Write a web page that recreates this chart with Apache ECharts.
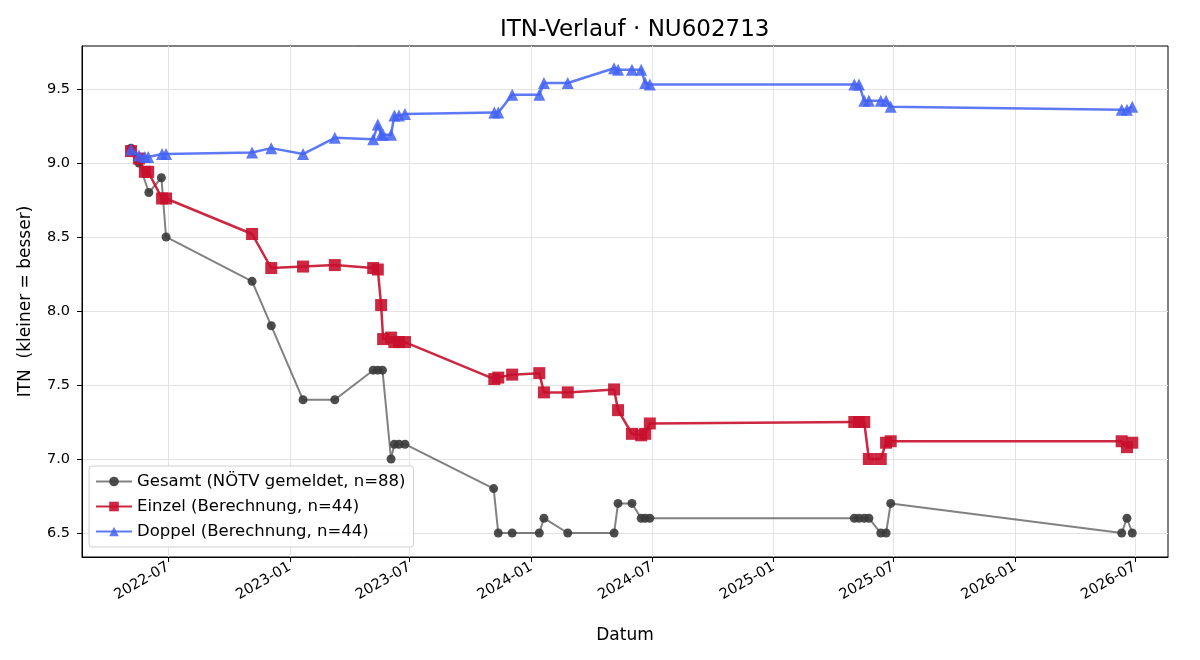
<!DOCTYPE html>
<html>
<head>
<meta charset="utf-8">
<title>ITN-Verlauf</title>
<script src="https://cdn.jsdelivr.net/npm/echarts@6/dist/echarts.min.js"></script>
<style>
html,body{margin:0;padding:0;background:#fff;}
#chart{width:1200px;height:660px;}
</style>
</head>
<body>
<div id="chart"></div>
<script>
// Gesamt (NÖTV gemeldet)
var gesamtDates = ['2022-05-06','2022-05-18','2022-06-02','2022-06-21','2022-06-28','2022-11-05','2022-12-04',
    '2023-01-21','2023-03-10','2023-05-07','2023-05-14','2023-05-21','2023-06-03','2023-06-08','2023-06-15','2023-06-24',
    '2023-11-05','2023-11-12','2023-12-03','2024-01-13','2024-01-20','2024-02-25','2024-05-05','2024-05-11','2024-06-01',
    '2024-06-15','2024-06-21','2024-06-28','2025-05-03','2025-05-10','2025-05-18','2025-05-25','2025-06-12','2025-06-20',
    '2025-06-27','2026-06-11','2026-06-19','2026-06-27'];
var gesamtValues = [9.1,9.0,8.8,8.9,8.5,8.2,7.9,
    7.4,7.4,7.6,7.6,7.6,7.0,7.1,7.1,7.1,
    6.8,6.5,6.5,6.5,6.6,6.5,6.5,6.7,6.7,
    6.6,6.6,6.6,6.6,6.6,6.6,6.6,6.5,6.5,
    6.7,6.5,6.6,6.5];

// Einzel / Doppel (Berechnung) – gleiche Zeitpunkte
var calcDates = ['2022-05-06','2022-05-18','2022-05-27','2022-06-01','2022-06-22','2022-06-28','2022-11-05','2022-12-04',
    '2023-01-21','2023-03-10','2023-05-07','2023-05-14','2023-05-19','2023-05-22','2023-06-03','2023-06-08','2023-06-15','2023-06-24',
    '2023-11-06','2023-11-12','2023-12-03','2024-01-13','2024-01-20','2024-02-25','2024-05-05','2024-05-11','2024-06-01',
    '2024-06-15','2024-06-21','2024-06-28','2025-05-03','2025-05-10','2025-05-18','2025-05-25','2025-06-12','2025-06-20',
    '2025-06-27','2026-06-11','2026-06-19','2026-06-27'];
var einzelValues = [9.08,9.03,8.94,8.94,8.76,8.76,8.52,8.29,
    8.30,8.31,8.29,8.28,8.04,7.81,7.82,7.79,7.79,7.79,
    7.54,7.55,7.57,7.58,7.45,7.45,7.47,7.33,7.17,
    7.16,7.17,7.24,7.25,7.25,7.25,7.00,7.00,7.11,
    7.12,7.12,7.08,7.11];
var doppelValues = [9.09,9.05,9.04,9.04,9.06,9.06,9.07,9.10,
    9.06,9.17,9.16,9.26,9.19,9.19,9.19,9.32,9.32,9.33,
    9.34,9.34,9.46,9.46,9.54,9.54,9.64,9.63,9.63,
    9.63,9.54,9.53,9.53,9.53,9.42,9.42,9.42,9.42,
    9.38,9.36,9.36,9.38];

var xTicks = ['2022-07-01','2023-01-01','2023-07-01','2024-01-01','2024-07-01','2025-01-01','2025-07-01','2026-01-01','2026-07-01'];
var yTicks = [6.5,7.0,7.5,8.0,8.5,9.0,9.5];

function ts(s){
    var p = s.split('-');
    return new Date(+p[0], +p[1]-1, +p[2]).getTime();
}
function pairs(dates, vals){
    var out = [];
    for(var i=0;i<dates.length;i++){ out.push([ts(dates[i]), vals[i]]); }
    return out;
}
var xTickVals = xTicks.map(ts);

var myChart = echarts.init(document.getElementById('chart'));
var fnt = 'DejaVu Sans';
var option = {
    backgroundColor:'#fff',
    animation:false,
    textStyle:{fontFamily:fnt},
    title:{
        text:'ITN-Verlauf · NU602713',
        left:495, top:14,
        textStyle:{fontFamily:fnt,fontSize:23,fontWeight:'normal',color:'#000'}
    },
    grid:{left:82,right:32,top:46,bottom:103,show:true,borderColor:'#000',borderWidth:1},
    legend:{
        left:89, bottom:113, orient:'vertical',
        itemWidth:36, itemHeight:12, itemGap:8,
        padding:[7,8,7,6],
        backgroundColor:'rgba(255,255,255,0.85)',
        borderColor:'#d0d0d0', borderWidth:1, borderRadius:3,
        textStyle:{fontFamily:fnt,fontSize:16.5,color:'#000'},
        data:['Gesamt (NÖTV gemeldet, n=88)','Einzel (Berechnung, n=44)','Doppel (Berechnung, n=44)']
    },
    xAxis:{
        type:'value',
        min:ts('2022-02-21'), max:ts('2026-08-20'),
        name:'Datum', nameLocation:'middle', nameGap:70,
        nameTextStyle:{fontFamily:fnt,fontSize:17,color:'#000'},
        axisLine:{lineStyle:{color:'#000'}},
        axisTick:{show:true,length:5,inside:false,customValues:xTickVals,lineStyle:{color:'#000'}},
        axisLabel:{
            customValues:xTickVals, rotate:30, fontFamily:fnt, fontSize:14.5, color:'#000', margin:9,
            formatter:function(v){ return echarts.time.format(v,'{yyyy}-{MM}',false); }
        },
        splitLine:{show:true,lineStyle:{color:'#e3e3e3',width:1}}
    },
    yAxis:{
        type:'value',
        min:6.338, max:9.79,
        name:'ITN  (kleiner = besser)', nameLocation:'middle', nameGap:48,
        nameTextStyle:{fontFamily:fnt,fontSize:17,color:'#000'},
        axisLine:{show:true,lineStyle:{color:'#000'}},
        axisTick:{show:true,length:5,customValues:yTicks,lineStyle:{color:'#000'}},
        axisLabel:{customValues:yTicks,fontFamily:fnt,fontSize:14.5,color:'#000',margin:12,
            formatter:function(v){ return v.toFixed(1); }},
        splitLine:{show:true,lineStyle:{color:'#e3e3e3',width:1}}
    },
    series:[
        {
            name:'Gesamt (NÖTV gemeldet, n=88)', type:'line',
            data:pairs(gesamtDates,gesamtValues),
            symbol:'circle', symbolSize:9,
            lineStyle:{color:'#333',width:2,opacity:0.62},
            itemStyle:{color:'#3a3a3a',opacity:0.9},
            z:2
        },
        {
            name:'Einzel (Berechnung, n=44)', type:'line',
            data:pairs(calcDates,einzelValues),
            symbol:'rect', symbolSize:12,
            lineStyle:{color:'#c8102e',width:2.5,opacity:0.9},
            itemStyle:{color:'#c8102e',opacity:0.9},
            z:3
        },
        {
            name:'Doppel (Berechnung, n=44)', type:'line',
            data:pairs(calcDates,doppelValues),
            symbol:'triangle', symbolSize:12,
            lineStyle:{color:'#4262f5',width:2.5,opacity:0.85},
            itemStyle:{color:'#4262f5',opacity:0.85},
            z:4
        }
    ]
};
myChart.setOption(option);
</script>
</body>
</html>
